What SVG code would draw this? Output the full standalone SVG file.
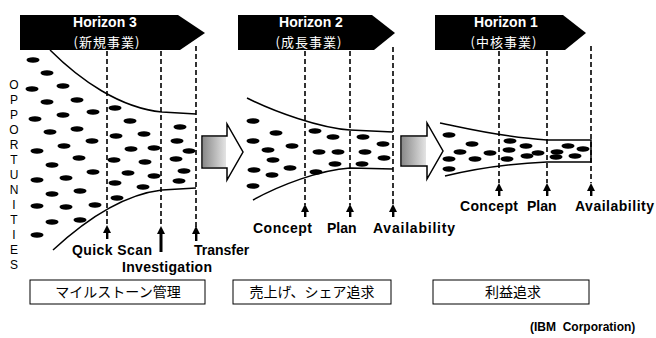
<svg xmlns="http://www.w3.org/2000/svg" width="656" height="338" viewBox="0 0 656 338">
<style>
.ban{fill:#000}
.ht{font-family:"Liberation Sans",Arial,sans-serif;font-weight:bold;font-size:14px;fill:#fff;text-anchor:middle}
.hj{font-family:"Noto Sans CJK JP","Noto Sans CJK SC",serif;font-size:13px;fill:#fff;text-anchor:middle}
.dash{stroke:#000;stroke-width:1.6;stroke-dasharray:5 3;fill:none}
.curve{stroke:#000;stroke-width:1.5;fill:none}
.lbl{font-family:"Liberation Sans",Arial,sans-serif;font-weight:bold;font-size:14px;fill:#000}
.opp{font-family:"Liberation Sans",Arial,sans-serif;font-size:12px;fill:#000;text-anchor:middle}
.box{fill:#fff;stroke:#000;stroke-width:1}
.bj{font-family:"Noto Sans CJK JP","Noto Sans CJK SC",sans-serif;font-size:14px;fill:#000;text-anchor:middle}
.big{fill:#fff;stroke:#000;stroke-width:1.5}
</style>
<defs>
<ellipse id="b" rx="6.5" ry="2.7" fill="#000"/>
<linearGradient id="g" x1="0" y1="0" x2="1" y2="0">
<stop offset="0" stop-color="#8a8a8a"/>
<stop offset="1" stop-color="#e4e4e4"/>
</linearGradient>
<path id="ar" d="M-4,8 L0,0 L4,8 Z" fill="#000"/>
</defs>
<rect width="656" height="338" fill="#fff"/>

<g id="horizon3">
<polygon class="ban" points="20,15 178,15 205,33 180,50 20,50"/>
<text class="ht" x="105" y="27">Horizon 3</text>
<text class="hj" x="107" y="47" letter-spacing="1">(新規事業)</text>
</g>
<g id="horizon2">
<polygon class="ban" points="238,15 372,15 395,33 374,50 238,50"/>
<text class="ht" x="311" y="27">Horizon 2</text>
<text class="hj" x="309" y="47" letter-spacing="1">(成長事業)</text>
</g>
<g id="horizon1">
<polygon class="ban" points="435,15 563,15 586,33 565,50 435,50"/>
<text class="ht" x="506" y="27">Horizon 1</text>
<text class="hj" x="504" y="47" letter-spacing="1">(中核事業)</text>
</g>

<g id="opportunities">
<text class="opp" x="14" y="89">O</text>
<text class="opp" x="14" y="104">P</text>
<text class="opp" x="14" y="119">P</text>
<text class="opp" x="14" y="134">O</text>
<text class="opp" x="14" y="149">R</text>
<text class="opp" x="14" y="164">T</text>
<text class="opp" x="14" y="179">U</text>
<text class="opp" x="14" y="194">N</text>
<text class="opp" x="14" y="209">I</text>
<text class="opp" x="14" y="224">T</text>
<text class="opp" x="14" y="239">I</text>
<text class="opp" x="14" y="254">E</text>
<text class="opp" x="14" y="269">S</text>
</g>

<g id="connectors">
<line class="dash" x1="107" y1="51" x2="107" y2="227"/>
<line class="dash" x1="161" y1="51" x2="161" y2="227"/>
<line class="dash" x1="196" y1="46" x2="196" y2="227"/>
<path class="curve" d="M50,50 C80,80 120,108 162,112 L196,114"/>
<path class="curve" d="M53,250 C80,225 120,195 162,190 L196,188"/>
<line class="dash" x1="305" y1="51" x2="305" y2="205"/>
<line class="dash" x1="350" y1="51" x2="350" y2="205"/>
<line class="dash" x1="393" y1="47" x2="393" y2="205"/>
<path class="curve" d="M247,98 C275,112 320,128 350,130 L393,132"/>
<path class="curve" d="M253,200 C280,185 320,170 350,168 L393,169"/>
<line class="dash" x1="499" y1="51" x2="499" y2="183"/>
<line class="dash" x1="547" y1="51" x2="547" y2="183"/>
<line class="dash" x1="591" y1="46" x2="591" y2="183"/>
<path class="curve" d="M440,123 C465,128 500,137 547,140 L591,140 L591,162 L547,162 C500,164 470,170 445,176"/>
</g>

<g id="flow-arrows">
<polygon class="big" points="202,136 227,136 227,124 243,152 227,180 227,168 202,168"/>
<rect x="203" y="137" width="23" height="30" fill="url(#g)"/>
<polygon class="big" points="401,136 427,136 427,123 443,151 427,179 427,166 401,166"/>
<rect x="402" y="137" width="24" height="28" fill="url(#g)"/>
</g>

<g id="blobs1">
<use href="#b" x="33" y="60"/><use href="#b" x="47" y="73"/><use href="#b" x="32" y="89"/><use href="#b" x="63" y="86"/>
<use href="#b" x="47" y="102"/><use href="#b" x="77" y="100"/><use href="#b" x="35" y="119"/><use href="#b" x="63" y="115"/>
<use href="#b" x="93" y="112"/><use href="#b" x="50" y="132"/><use href="#b" x="77" y="129"/><use href="#b" x="92" y="141"/>
<use href="#b" x="37" y="151"/><use href="#b" x="64" y="146"/><use href="#b" x="52" y="165"/><use href="#b" x="79" y="158"/>
<use href="#b" x="93" y="172"/><use href="#b" x="37" y="180"/><use href="#b" x="66" y="178"/><use href="#b" x="52" y="194"/>
<use href="#b" x="80" y="191"/><use href="#b" x="37" y="206"/><use href="#b" x="66" y="207"/><use href="#b" x="95" y="205"/>
<use href="#b" x="52" y="222"/><use href="#b" x="80" y="220"/><use href="#b" x="37" y="235"/>
<use href="#b" x="115" y="108"/><use href="#b" x="130" y="121"/><use href="#b" x="116" y="136"/><use href="#b" x="144" y="134"/>
<use href="#b" x="131" y="149"/><use href="#b" x="154" y="148"/><use href="#b" x="114" y="160"/><use href="#b" x="145" y="162"/>
<use href="#b" x="128" y="173"/><use href="#b" x="154" y="176"/><use href="#b" x="115" y="183"/><use href="#b" x="143" y="187"/>
<use href="#b" x="117" y="198"/>
<use href="#b" x="180" y="127"/><use href="#b" x="177" y="141"/><use href="#b" x="189" y="151"/><use href="#b" x="176" y="159"/>
<use href="#b" x="184" y="171"/><use href="#b" x="179" y="181"/>
</g>
<g id="blobs2">
<use href="#b" x="253" y="121"/><use href="#b" x="276" y="133"/><use href="#b" x="253" y="141"/><use href="#b" x="292" y="146"/>
<use href="#b" x="268" y="150"/><use href="#b" x="273" y="160"/><use href="#b" x="254" y="170"/><use href="#b" x="290" y="168"/>
<use href="#b" x="272" y="175"/><use href="#b" x="253" y="186"/>
<use href="#b" x="315" y="131"/><use href="#b" x="333" y="137"/><use href="#b" x="319" y="152"/><use href="#b" x="338" y="152"/>
<use href="#b" x="335" y="164"/><use href="#b" x="316" y="172"/>
<use href="#b" x="363" y="137"/><use href="#b" x="383" y="144"/><use href="#b" x="365" y="152"/><use href="#b" x="384" y="158"/>
<use href="#b" x="362" y="164"/>
</g>
<g id="blobs3">
<use href="#b" x="449" y="135"/><use href="#b" x="472" y="144"/><use href="#b" x="460" y="152"/><use href="#b" x="449" y="159"/>
<use href="#b" x="475" y="159"/><use href="#b" x="490" y="153"/><use href="#b" x="449" y="169"/>
<use href="#b" x="510" y="141"/><use href="#b" x="526" y="146"/><use href="#b" x="509" y="150"/><use href="#b" x="527" y="156"/>
<use href="#b" x="538" y="153"/><use href="#b" x="507" y="159"/>
<use href="#b" x="557" y="152"/><use href="#b" x="556" y="157"/><use href="#b" x="568" y="146"/><use href="#b" x="583" y="149"/>
<use href="#b" x="575" y="156"/>
</g>

<g id="milestone-arrows">
<use href="#ar" x="107" y="225"/><rect x="106" y="232" width="2.4" height="7" fill="#000"/>
<use href="#ar" x="161" y="226"/><rect x="159.5" y="233" width="3" height="19" fill="#000"/>
<use href="#ar" x="196" y="226"/><rect x="195" y="233" width="2.4" height="8" fill="#000"/>
<use href="#ar" x="305" y="204"/><rect x="304" y="211" width="2.4" height="6" fill="#000"/>
<use href="#ar" x="350" y="204"/><rect x="349" y="211" width="2.4" height="6" fill="#000"/>
<use href="#ar" x="393" y="204"/><rect x="392" y="211" width="2.4" height="6" fill="#000"/>
<use href="#ar" x="499" y="183"/><rect x="498" y="190" width="2.4" height="6" fill="#000"/>
<use href="#ar" x="547" y="183"/><rect x="546" y="190" width="2.4" height="6" fill="#000"/>
<use href="#ar" x="591" y="183"/><rect x="590" y="190" width="2.4" height="6" fill="#000"/>
</g>

<g id="labels">
<text class="lbl" x="72" y="255" textLength="80">Quick Scan</text>
<text class="lbl" x="122" y="272" textLength="90">Investigation</text>
<text class="lbl" x="194" y="255">Transfer</text>
<text class="lbl" x="253" y="233" textLength="59">Concept</text>
<text class="lbl" x="327" y="233">Plan</text>
<text class="lbl" x="373" y="233" textLength="82">Availability</text>
<text class="lbl" x="460" y="211" textLength="58">Concept</text>
<text class="lbl" x="527" y="211">Plan</text>
<text class="lbl" x="575" y="211" textLength="79">Availability</text>
</g>

<g id="box1">
<rect class="box" x="30" y="280" width="175" height="24"/>
<text class="bj" x="118" y="297">マイルストーン管理</text>
</g>
<g id="box2">
<rect class="box" x="233" y="280" width="158" height="24"/>
<text class="bj" x="312" y="297">売上げ、シェア追求</text>
</g>
<g id="box3">
<rect class="box" x="433" y="280" width="156" height="24"/>
<text class="bj" x="513" y="297">利益追求</text>
</g>

<text class="lbl" x="530" y="331" style="font-size:12px;white-space:pre" xml:space="preserve">(IBM  Corporation)</text>
</svg>
